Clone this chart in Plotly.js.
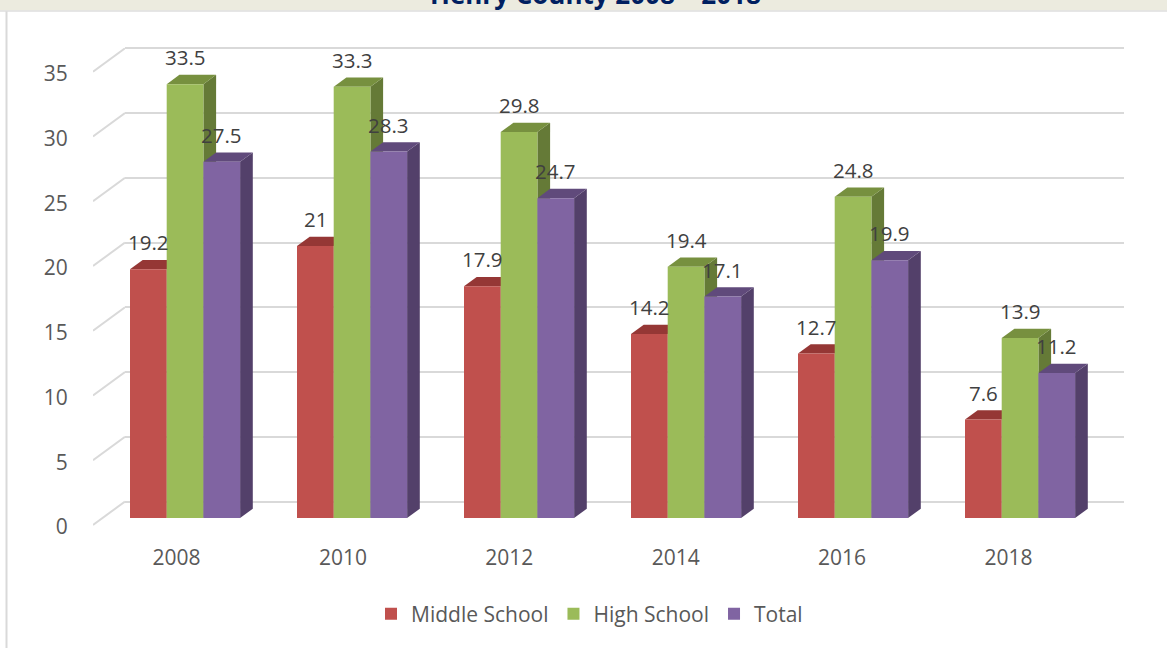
<!DOCTYPE html>
<html><head><meta charset="utf-8">
<script src="https://cdn.plot.ly/plotly-3.0.1.min.js"></script>
<style>html,body{margin:0;padding:0;background:#fff;overflow:hidden}#c{width:1167px;height:648px}</style>
</head><body><div id="c"></div>
<script>
const years = ['2008','2010','2012','2014','2016','2018'];
const middleSchool = [19.2,21,17.9,14.2,12.7,7.6];
const highSchool = [33.5,33.3,29.8,19.4,24.8,13.9];
const total = [27.5,28.3,24.7,17.1,19.9,11.2];
const yTicks = [0,5,10,15,20,25,30,35];

const W=1167,H=648,UNIT=12.95,PITCH=167;
const px=v=>v/W, py=v=>1-v/H;
const series=[
 {name:'Middle School',vals:middleSchool,front:'#C0504D',side:'#8C3836',top:'#953735'},
 {name:'High School',vals:highSchool,front:'#9BBB59',side:'#657A37',top:'#77903F'},
 {name:'Total',vals:total,front:'#8064A2',side:'#53406A',top:'#604A7B'}
];
const barW=36.7/PITCH, start=-46.5/PITCH, dX=12.7/PITCH, dY=9.3/UNIT;
const xIdx=years.map((_,i)=>i);
const LABEL_DROP=2/UNIT; // tick text sits 2px lower than the diagonals start

const traces=[], shapes=[], annotations=[];
// chrome
shapes.push({type:'rect',xref:'paper',yref:'paper',x0:0,x1:1,y0:py(10.5),y1:1,fillcolor:'#ECEBDF',line:{width:0},layer:'below'});
shapes.push({type:'line',xref:'paper',yref:'paper',x0:px(6.5),x1:px(6.5),y0:0,y1:py(11),line:{color:'#D9D9D9',width:2},layer:'below'});
shapes.push({type:'line',xref:'paper',yref:'paper',x0:px(0),x1:1,y0:py(11),y1:py(11),line:{color:'#DEDEDE',width:1.5},layer:'below'});

// back wall carrier, so the gridline axis is built
traces.push({type:'scatter',mode:'markers',xaxis:'x',yaxis:'y',x:[0.5],y:yTicks.slice(0,1),marker:{opacity:0,size:1},showlegend:false,hoverinfo:'skip'});

// floor diagonals
const dgX=[],dgY=[];
yTicks.forEach(t=>{dgX.push(0,1,null);dgY.push(t+LABEL_DROP,t+LABEL_DROP+23.5/UNIT,null);});
traces.push({type:'scatter',mode:'lines',xaxis:'x2',yaxis:'y2',x:dgX,y:dgY,line:{color:'#D9D9D9',width:2},showlegend:false,hoverinfo:'skip'});

series.forEach((s,k)=>{
  const off=start+k*barW;
  traces.push({type:'bar',name:s.name,xaxis:'x3',yaxis:'y3',x:xIdx,y:s.vals,width:barW,offset:off,
    marker:{color:s.front,line:{width:0}},hoverinfo:'y+name'});
  s.vals.forEach((v,i)=>{
    const a=i+off,b=a+barW;
    shapes.push({type:'path',xref:'x3',yref:'y3',layer:'between',line:{width:0},fillcolor:s.side,
      path:`M${b},0L${b+dX},${dY}L${b+dX},${v+dY}L${b},${v}Z`});
    shapes.push({type:'path',xref:'x3',yref:'y3',layer:'between',line:{width:0},fillcolor:s.top,
      path:`M${a},${v}L${a+dX},${v+dY}L${b+dX},${v+dY}L${b},${v}Z`});
    annotations.push({xref:'x3',yref:'y3',x:a+barW/2,y:v,yshift:27,text:String(v),showarrow:false,
      xanchor:'center',yanchor:'middle',font:{family:'Open Sans',size:20.5,color:'#404040'}});
  });
});
annotations.push({xref:'paper',yref:'paper',x:px(595),y:py(-6.5),text:'Henry County 2008 – 2018',showarrow:false,
  xanchor:'center',yanchor:'middle',font:{family:'Open Sans',size:26,color:'#002060',weight:700}});

const font={family:'Open Sans',size:21,color:'#595959'};
const layout={
 width:W,height:H,margin:{l:0,r:0,t:0,b:0},paper_bgcolor:'rgba(0,0,0,0)',plot_bgcolor:'rgba(0,0,0,0)',
 font,barmode:'overlay',showlegend:true,
 legend:{orientation:'h',x:px(371),xanchor:'left',y:py(614),yanchor:'middle',font:{family:'Open Sans',size:21,color:'#595959'},bgcolor:'rgba(0,0,0,0)'},
 // back wall gridlines
 xaxis:{domain:[px(125),px(1124)],anchor:'y',visible:false,range:[0,1]},
 yaxis:{domain:[py(501.5+UNIT),py(501.5-36*UNIT)],anchor:'x',range:[-1,36],tickmode:'array',tickvals:yTicks,showgrid:true,gridcolor:'#D9D9D9',gridwidth:2,
   zeroline:false,showticklabels:false,ticks:'',showline:false},
 // front edge: value labels and diagonals
 xaxis2:{domain:[px(93),px(125)],anchor:'y2',visible:false,range:[0,1]},
 yaxis2:{domain:[py(527+UNIT),py(527-37*UNIT)],anchor:'x2',range:[-1,37],tickmode:'array',tickvals:yTicks,ticktext:yTicks.map(String),
   showgrid:false,zeroline:false,showline:false,ticks:'outside',ticklen:20,tickcolor:'rgba(0,0,0,0)',tickfont:font},
 // bars
 xaxis3:{domain:[px(93),px(93+6*PITCH)],anchor:'y3',range:[-0.5,5.5],tickmode:'array',tickvals:xIdx.map(i=>i*166.4/PITCH),ticktext:years,
   showgrid:false,zeroline:false,showline:false,ticks:'outside',ticklen:21,tickcolor:'rgba(0,0,0,0)',tickfont:font},
 yaxis3:{domain:[py(518),py(518-38*UNIT)],anchor:'x3',range:[0,38],visible:false},
 shapes,annotations
};
Plotly.newPlot('c',traces,layout,{displayModeBar:false,responsive:false});
</script></body></html>
